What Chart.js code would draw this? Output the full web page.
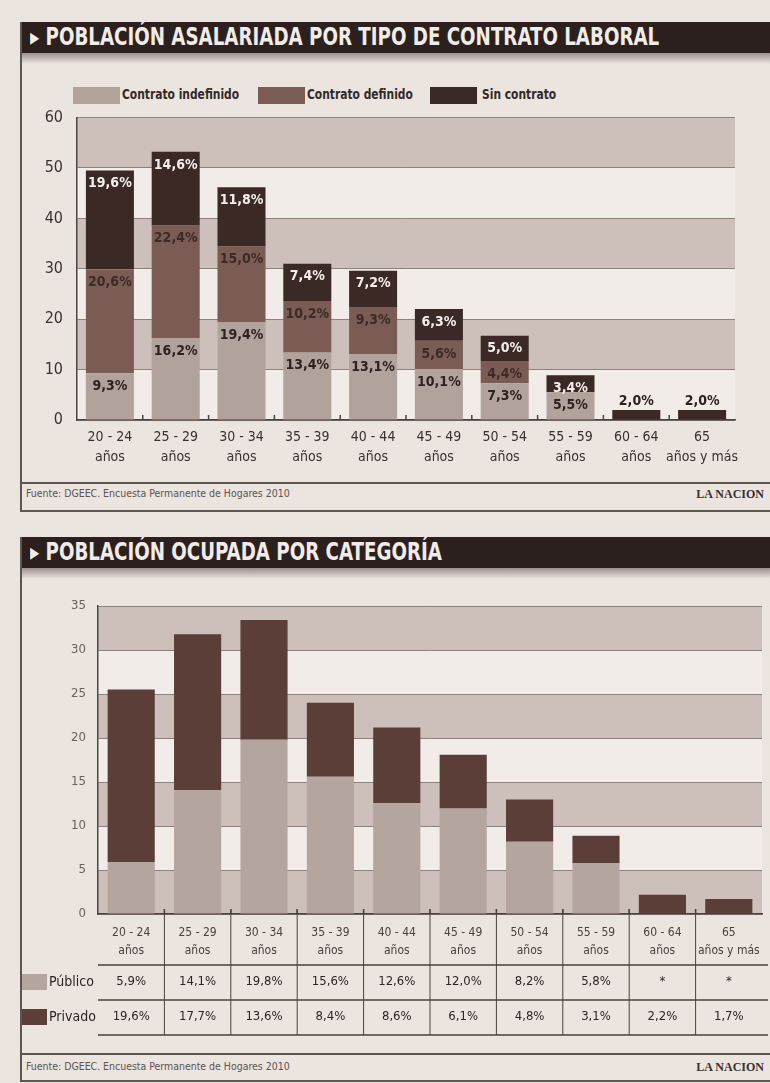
<!DOCTYPE html>
<html>
<head>
  <meta charset="utf-8">
  <title>Población asalariada y ocupada</title>
  <script src="https://cdn.jsdelivr.net/npm/chart.js"></script>
  <style>
    body { margin: 0; width: 770px; height: 1083px; background: #ebe4df; position: relative; overflow: hidden;
           font-family: "DejaVu Sans Condensed", "Liberation Sans Narrow", Arial, sans-serif; color: #2e2522; }
    .abs { position: absolute; }
    .vline { position: absolute; left: 20px; width: 2px; background: #5e5450; }
    .hline { position: absolute; left: 20px; width: 750px; height: 2px; background: #5e5450; }
    .titlebar { position: absolute; left: 20px; width: 750px; height: 31px; background: #2c201e; color: #f1ece8;
                font-weight: bold; font-size: 24px; line-height: 31px; white-space: nowrap; overflow: hidden; }
    .titlebar span { display: inline-block; margin-left: 10px; transform: scaleX(0.845); transform-origin: left center; }
    .shade { position: absolute; left: 20px; width: 750px; height: 11px; background: linear-gradient(#9c8f8a, #ebe4df); }
    .fuente { position: absolute; left: 26px; font-size: 11px; color: #5d5350; transform: scaleX(0.95); transform-origin: left; }
    .nacion { position: absolute; right: 6px; font-family: "Liberation Serif", serif; font-size: 12px; font-weight: bold; color: #3a302d; }
    .sw { position: absolute; width: 47px; height: 17px; }
    .lg { position: absolute; font-size: 14px; font-weight: bold; color: #332926; white-space: nowrap;
          transform: scaleX(0.85); transform-origin: left center; }
  </style>
</head>
<body>

<!-- gráfico 1 -->
<div class="titlebar" style="top:22px"><span>▸ POBLACIÓN ASALARIADA POR TIPO DE CONTRATO LABORAL</span></div>
<div class="shade" style="top:53px"></div>
<div class="vline" style="top:22px; height:490px"></div>

<div class="sw" style="left:73px; top:87px; background:#b2a29c"></div>
<div class="lg" style="left:122px; top:86px">Contrato indefinido</div>
<div class="sw" style="left:258px; top:87px; background:#7b5c55"></div>
<div class="lg" style="left:307px; top:86px">Contrato definido</div>
<div class="sw" style="left:430px; top:87px; background:#3b2926"></div>
<div class="lg" style="left:482px; top:86px">Sin contrato</div>

<canvas id="chart1" class="abs" style="left:20px; top:94px" width="750" height="386"></canvas>

<div class="hline" style="top:482px"></div>
<div class="fuente" style="top:487px">Fuente: DGEEC. Encuesta Permanente de Hogares 2010</div>
<div class="nacion" style="top:487px">LA NACION</div>
<div class="hline" style="top:510px"></div>

<!-- gráfico 2 -->
<div class="titlebar" style="top:537px"><span>▸ POBLACIÓN OCUPADA POR CATEGORÍA</span></div>
<div class="shade" style="top:568px"></div>
<div class="vline" style="top:537px; height:544px"></div>

<canvas id="chart2" class="abs" style="left:20px; top:580px" width="750" height="470"></canvas>

<div class="hline" style="top:1053px"></div>
<div class="fuente" style="top:1060px">Fuente: DGEEC. Encuesta Permanente de Hogares 2010</div>
<div class="nacion" style="top:1060px">LA NACION</div>
<div class="hline" style="top:1080px"></div>

<script>
  // categorías (dos líneas en el eje)
  const grupos = ["20 - 24", "25 - 29", "30 - 34", "35 - 39", "40 - 44", "45 - 49", "50 - 54", "55 - 59", "60 - 64", "65"];
  const sufijos = ["años", "años", "años", "años", "años", "años", "años", "años", "años", "años y más"];

  // gráfico 1: población asalariada (%)
  const indefinido  = [9.3, 16.2, 19.4, 13.4, 13.1, 10.1, 7.3, 5.5, 0, 0];
  const definido    = [20.6, 22.4, 15.0, 10.2, 9.3, 5.6, 4.4, 0, 0, 0];
  const sinContrato = [19.6, 14.6, 11.8, 7.4, 7.2, 6.3, 5.0, 3.4, 2.0, 2.0];
  const ejeY1 = { min: 0, max: 60, paso: 10 };

  // gráfico 2: población ocupada (%)
  const publico = [5.9, 14.1, 19.8, 15.6, 12.6, 12.0, 8.2, 5.8, null, null];
  const privado = [19.6, 17.7, 13.6, 8.4, 8.6, 6.1, 4.8, 3.1, 2.2, 1.7];
  const ejeY2 = { min: 0, max: 35, paso: 5 };

  const FONT = '"DejaVu Sans Condensed", "Liberation Sans Narrow", Arial, sans-serif';
  const etiquetas = grupos.map((g, i) => [g, sufijos[i]]);
  const pct = v => v.toFixed(1).replace('.', ',') + '%';

  // franjas horizontales alternas
  function bandas() {
    return {
      id: 'bandas',
      beforeDraw(chart) {
        const { ctx, chartArea: a, scales: { y } } = chart;
        const paso = y.options.ticks.stepSize;
        ctx.save();
        let k = 0;
        for (let v = y.max; v > y.min; v -= paso, k++) {
          const top = y.getPixelForValue(v), bot = y.getPixelForValue(v - paso);
          ctx.fillStyle = k % 2 === 0 ? '#cdc0ba' : '#f1ece8';
          ctx.fillRect(a.left, top, a.right - a.left, bot - top);
        }
        ctx.restore();
      }
    };
  }

  // marcas pequeñas entre categorías
  const marcas = {
    id: 'marcas',
    afterDatasetsDraw(chart) {
      const { ctx, chartArea: a, scales: { x } } = chart;
      ctx.save();
      ctx.strokeStyle = '#4d4340';
      ctx.lineWidth = 1.5;
      for (let i = 0; i < grupos.length - 1; i++) {
        const px = (x.getPixelForValue(i) + x.getPixelForValue(i + 1)) / 2;
        ctx.beginPath(); ctx.moveTo(px, a.bottom); ctx.lineTo(px, a.bottom - 5); ctx.stroke();
      }
      ctx.restore();
    }
  };

  const colores1 = ['#b2a29c', '#7b5c55', '#3b2926'];
  const colTexto1 = ['#2e2220', '#3c2a26', '#f4efec'];

  const valores = {
    id: 'valores',
    afterDatasetsDraw(chart) {
      const { ctx } = chart;
      ctx.save();
      ctx.font = 'bold 14px ' + FONT;
      ctx.textAlign = 'center';
      chart.data.datasets.forEach((ds, d) => {
        chart.getDatasetMeta(d).data.forEach((bar, i) => {
          const v = ds.data[i];
          if (!v) return;
          const h = bar.base - bar.y;
          if (h < 14) {
            ctx.fillStyle = '#2e2220';
            ctx.textBaseline = 'bottom';
            ctx.fillText(pct(v), bar.x, bar.y - 2);
          } else {
            ctx.fillStyle = colTexto1[d];
            ctx.textBaseline = 'middle';
            ctx.fillText(pct(v), bar.x, bar.y + 13);
          }
        });
      });
      ctx.restore();
    }
  };

  new Chart(document.getElementById('chart1'), {
    type: 'bar',
    data: {
      labels: etiquetas,
      datasets: [
        { label: 'Contrato indefinido', data: indefinido, backgroundColor: colores1[0] },
        { label: 'Contrato definido', data: definido, backgroundColor: colores1[1] },
        { label: 'Sin contrato', data: sinContrato, backgroundColor: colores1[2] }
      ]
    },
    options: {
      responsive: false,
      animation: false,
      layout: { padding: { top: 10, right: 35, left: 0, bottom: 0 } },
      datasets: { bar: { categoryPercentage: 1, barPercentage: 0.73 } },
      plugins: { legend: { display: false }, tooltip: { enabled: false } },
      scales: {
        x: {
          stacked: true,
          grid: { display: false },
          border: { color: '#4d4340', width: 1.5 },
          ticks: { color: '#3a302d', padding: 0, maxRotation: 0, minRotation: 0, autoSkip: false,
                   font: { family: FONT, size: 14, lineHeight: 1.4 } },
          afterFit(s) { s.height = 60; }
        },
        y: {
          stacked: true,
          min: ejeY1.min, max: ejeY1.max,
          ticks: { stepSize: ejeY1.paso, color: '#3b3230', padding: 14, font: { family: FONT, size: 16 } },
          grid: { color: '#8e817c', lineWidth: 1, drawTicks: false },
          border: { color: '#4d4340', width: 1.5 },
          afterFit(s) { s.width = 57; }
        }
      }
    },
    plugins: [bandas(), marcas, valores]
  });

  // tabla bajo el gráfico 2
  const tabla = {
    id: 'tabla',
    afterDraw(chart) {
      const { ctx, chartArea: a, scales: { x } } = chart;
      const filas = [
        { nombre: 'Público', datos: publico, color: '#b5a59f', y: 402 },
        { nombre: 'Privado', datos: privado, color: '#5b3e38', y: 437 }
      ];
      ctx.save();
      ctx.strokeStyle = '#4a403c';
      ctx.lineWidth = 1.5;
      [385, 420, 455].forEach(ly => {
        ctx.beginPath(); ctx.moveTo(a.left, ly); ctx.lineTo(a.right + 6, ly); ctx.stroke();
      });
      ctx.lineWidth = 1;
      for (let i = 0; i < grupos.length - 1; i++) {
        const px = (x.getPixelForValue(i) + x.getPixelForValue(i + 1)) / 2;
        ctx.beginPath(); ctx.moveTo(px, a.bottom - 5); ctx.lineTo(px, 455); ctx.stroke();
      }
      ctx.textBaseline = 'middle';
      filas.forEach(f => {
        ctx.fillStyle = f.color;
        ctx.fillRect(2, f.y - 8, 25, 16);
        ctx.fillStyle = '#2e2522';
        ctx.textAlign = 'left';
        ctx.font = '14px ' + FONT;
        ctx.fillText(f.nombre, 29, f.y);
        ctx.textAlign = 'center';
        ctx.font = '13px ' + FONT;
        f.datos.forEach((v, i) => {
          ctx.fillText(v == null ? '*' : pct(v), x.getPixelForValue(i), f.y);
        });
      });
      ctx.restore();
    }
  };

  new Chart(document.getElementById('chart2'), {
    type: 'bar',
    data: {
      labels: etiquetas,
      datasets: [
        { label: 'Público', data: publico, backgroundColor: '#b5a59f' },
        { label: 'Privado', data: privado, backgroundColor: '#5b3e38' }
      ]
    },
    options: {
      responsive: false,
      animation: false,
      layout: { padding: { top: 26, right: 8, left: 0, bottom: 0 } },
      datasets: { bar: { categoryPercentage: 1, barPercentage: 0.71 } },
      plugins: { legend: { display: false }, tooltip: { enabled: false } },
      scales: {
        x: {
          stacked: true,
          grid: { display: false },
          border: { color: '#4d4340', width: 1.5 },
          ticks: { color: '#4a403c', padding: 2, maxRotation: 0, minRotation: 0, autoSkip: false,
                   font: { family: FONT, size: 12, lineHeight: 1.5 } },
          afterFit(s) { s.height = 136; }
        },
        y: {
          stacked: true,
          min: ejeY2.min, max: ejeY2.max,
          ticks: { stepSize: ejeY2.paso, color: '#6a5f5a', padding: 12, font: { family: FONT, size: 13 } },
          grid: { color: '#8e817c', lineWidth: 1, drawTicks: false },
          border: { color: '#4d4340', width: 1.5 },
          afterFit(s) { s.width = 78; }
        }
      }
    },
    plugins: [bandas(), marcas, tabla]
  });
</script>

</body>
</html>
